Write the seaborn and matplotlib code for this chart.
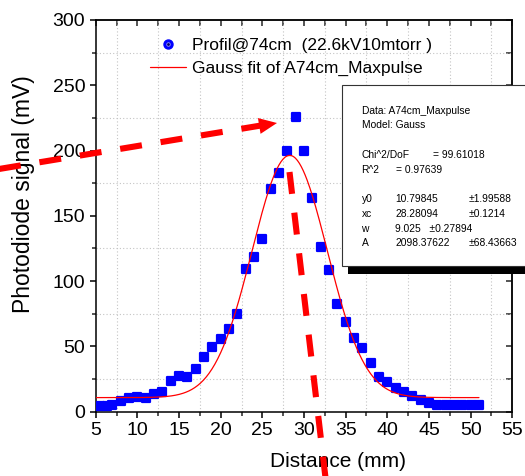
import numpy as np
import pandas as pd
import matplotlib
matplotlib.use("Agg")
import matplotlib.pyplot as plt
import seaborn as sns
from matplotlib.lines import Line2D
from matplotlib.patches import Rectangle, Polygon
from matplotlib.ticker import MultipleLocator, NullFormatter

# ---------------- data ----------------
distance_mm = [5.5, 6.3, 7.0, 8, 9, 10, 11, 12, 13, 14, 15, 16, 17, 18, 19, 20,
               21, 22, 23, 24, 25, 26, 27, 28, 29, 30, 31, 32, 33, 34, 35, 36,
               37, 38, 39, 40, 41, 42, 43, 44, 45, 46, 47, 48, 49, 50, 51]
signal_mV = [4.5, 4.5, 4.8, 8.4, 10.3, 11.0, 10.3, 13.3, 14.9, 23.7, 27.6, 26.3,
             32.7, 41.7, 49.3, 55.7, 63.3, 74.8, 109.3, 118.3, 132.3, 170.6,
             182.6, 199.9, 225.5, 199.9, 163.5, 126.4, 108.5, 82.5, 68.9, 56.7,
             48.6, 37.5, 26.8, 22.5, 18.4, 15.3, 12.3, 9.0, 6.9, 5.2, 5.0, 5.0,
             5.0, 5.0, 5.0]

# Gauss fit parameters shown in the chart
fit_y0 = 10.79845
fit_xc = 28.28094
fit_w = 9.025
fit_A = 2098.37622
fit_range = [5, 51]

legend_labels = ["Profil@74cm  (22.6kV10mtorr )", "Gauss fit of A74cm_Maxpulse"]
x_label = "Distance (mm)"
y_label = "Photodiode signal (mV)"

box_header = ["Data: A74cm_Maxpulse", "Model: Gauss"]
box_stats = [("Chi^2/DoF", "= 99.61018"), ("R^2", "= 0.97639")]
box_params = [("y0", "10.79845", "\u00b11.99588"),
              ("xc", "28.28094", "\u00b10.1214"),
              ("w", "9.025   \u00b10.27894", ""),
              ("A", "2098.37622", "\u00b168.43663")]

# ---------------- style ----------------
sns.set_theme(style="white")
plt.rcParams["font.family"] = ["Liberation Sans", "DejaVu Sans"]
plt.rcParams["axes.unicode_minus"] = False

W, H = 525, 476
fig = plt.figure(figsize=(W / 100, H / 100), dpi=100)
fig.patch.set_facecolor("white")


def fx(px):
    return px / W


def fy(py):
    return 1 - py / H


ax_l, ax_r, ax_t, ax_b = 95.7, 512.3, 20.0, 411.7
ax = fig.add_axes([fx(ax_l), fy(ax_b), (ax_r - ax_l) / W, (ax_b - ax_t) / H])
ax.set_facecolor("white")

df = pd.DataFrame({"Distance": distance_mm, "Signal": signal_mV})
sns.scatterplot(data=df, x="Distance", y="Signal", ax=ax, marker="s", s=36,
                color="#0000ff", edgecolor="#0000ff", linewidth=1.6,
                zorder=3, legend=False)
ax.collections[-1].set_joinstyle("round")

fit_x = np.linspace(fit_range[0], fit_range[1], 400)
fit_y = fit_y0 + fit_A / (fit_w * np.sqrt(np.pi / 2)) * np.exp(-2 * ((fit_x - fit_xc) / fit_w) ** 2)
sns.lineplot(x=fit_x, y=fit_y, ax=ax, color="#ff0000", linewidth=0.9, zorder=4)

ax.set_xlim(5, 55)
ax.set_ylim(0, 300)
ax.xaxis.set_major_locator(MultipleLocator(5))
ax.xaxis.set_minor_locator(MultipleLocator(2.5))
ax.yaxis.set_major_locator(MultipleLocator(50))
ax.yaxis.set_minor_locator(MultipleLocator(25))
ax.grid(False)
ax.grid(which="minor", linestyle=(0, (1, 2)), color="#c4c4c4", linewidth=0.8)
ax.set_axisbelow(True)

for s in ax.spines.values():
    s.set_linewidth(1.1)
    s.set_color("black")

ax.tick_params(which="major", direction="out", length=4.5, width=1.1,
               labelsize=14, pad=3, colors="black", bottom=True, left=True)
ax.tick_params(which="minor", direction="out", length=2.8, width=1.1,
               bottom=True, left=True)

secx = ax.secondary_xaxis("top")
secx.xaxis.set_major_locator(MultipleLocator(5))
secx.xaxis.set_minor_locator(MultipleLocator(2.5))
secx.xaxis.set_major_formatter(NullFormatter())
secx.tick_params(which="both", direction="in", length=4.5, width=1.1)
secx.spines["top"].set_linewidth(1.1)
secy = ax.secondary_yaxis("right")
secy.yaxis.set_major_locator(MultipleLocator(50))
secy.yaxis.set_minor_locator(MultipleLocator(25))
secy.yaxis.set_major_formatter(NullFormatter())
secy.tick_params(which="both", direction="in", length=4.5, width=1.1)
secy.spines["right"].set_linewidth(1.1)

ax.set_xlabel(x_label, fontsize=15, color="black")
ax.set_ylabel(y_label, fontsize=16.5, color="black")
ax.xaxis.label.set_va("center")
ax.yaxis.label.set_va("center")
ax.xaxis.set_label_coords((338 - ax_l) / (ax_r - ax_l), (ax_b - 462) / (ax_b - ax_t))
ax.yaxis.set_label_coords((24 - ax_l) / (ax_r - ax_l), (ax_b - 194) / (ax_b - ax_t))

# legend
h_pts = (Line2D([], [], ls="none", marker="o", ms=6.5, mfc="#0000ff", mec="#0000ff"),
         Line2D([], [], ls="none", marker="o", ms=2.6, mfc="#000060", mec="#9090ff", mew=0.6))
h_line = Line2D([], [], color="#ff0000", lw=0.9)
leg = ax.legend([h_pts, h_line], legend_labels, loc="upper left",
                bbox_to_anchor=(fx(150), fy(37.5)), bbox_transform=fig.transFigure,
                frameon=False, fontsize=12.5, handlelength=2.1, handletextpad=0.3,
                borderpad=0, borderaxespad=0, labelspacing=0.45)
for t in leg.get_texts():
    t.set_color("black")

# fit result box with shadow
fig.add_artist(Rectangle((fx(348), fy(274)), fx(200), (274 - 92) / H,
                         transform=fig.transFigure, facecolor="black",
                         edgecolor="none", zorder=20))
fig.add_artist(Rectangle((fx(342), fy(266)), fx(200), (266 - 85) / H,
                         transform=fig.transFigure, facecolor="white",
                         edgecolor="#333333", linewidth=0.8, zorder=21))
fs_box = 7.4
tk = dict(transform=fig.transFigure, fontsize=fs_box, va="center", ha="left",
          color="black", zorder=22)
fig.text(fx(361.5), fy(111.5), box_header[0], **tk)
fig.text(fx(361.5), fy(125.5), box_header[1], **tk)
fig.text(fx(361.5), fy(154.5), box_stats[0][0], **tk)
fig.text(fx(433), fy(154.5), box_stats[0][1], **tk)
fig.text(fx(361.5), fy(169.5), box_stats[1][0], **tk)
fig.text(fx(396.5), fy(169.5), box_stats[1][1], **tk)
row_y = [198.5, 214, 228.5, 243.5]
for (lab, val, err), yy in zip(box_params, row_y):
    fig.text(fx(361.5), fy(yy), lab, **tk)
    fig.text(fx(395), fy(yy), val, **tk)
    if err:
        fig.text(fx(469), fy(yy), err, **tk)

# red dashed annotation arrows
dash = (0, (3.6, 3.1))
fig.add_artist(Line2D([fx(-4), fx(261)], [fy(169.5), fy(125.5)],
                      transform=fig.transFigure, color="#ff0000", lw=4.4,
                      linestyle=dash, solid_capstyle="butt", zorder=30))
tip = np.array([277.0, 123.0])
d = np.array([277.0, -46.0])
d = d / np.linalg.norm(d)
perp = np.array([-d[1], d[0]])
base = tip - 18 * d
tri = [tip, base + 8 * perp, base - 8 * perp]
fig.add_artist(Polygon([(fx(p[0]), fy(p[1])) for p in tri], closed=True,
                       transform=fig.transFigure, facecolor="#ff0000",
                       edgecolor="none", zorder=30))
fig.add_artist(Line2D([fx(289.5), fx(326)], [fy(172), fy(482)],
                      transform=fig.transFigure, color="#ff0000", lw=4.4,
                      linestyle=dash, zorder=30))

fig.savefig("out.png", dpi=100)
